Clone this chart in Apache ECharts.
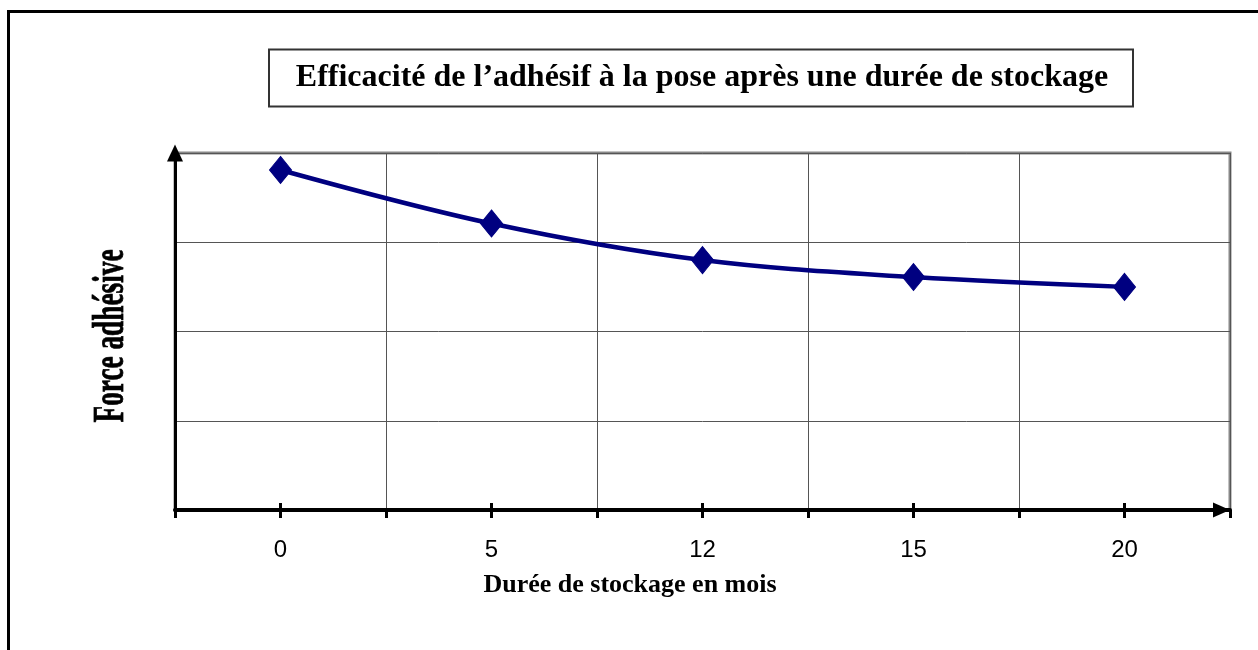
<!DOCTYPE html>
<html><head><meta charset="utf-8">
<script src="https://cdn.jsdelivr.net/npm/echarts@6/dist/echarts.min.js"></script>
<style>html,body{margin:0;padding:0;background:#fff}#c{width:1258px;height:650px}</style>
</head><body><div id="c"></div>
<script>
const categories = ['0', '5', '12', '15', '20'];
const forceValues = [3.81, 3.21, 2.80, 2.61, 2.50];
const yTicks = { min: 0, max: 4, interval: 1 };
const titleText = 'Efficacité de l’adhésif à la pose après une durée de stockage';
const xName = 'Durée de stockage en mois';
const yName = 'Force adhésive';

const chart = echarts.init(document.getElementById('c'), null, { renderer: 'canvas' });
const serif = '"Liberation Serif", "Times New Roman", serif';
const sans = '"Liberation Sans", Arial, sans-serif';

const tickAxis = (inside, len) => ({
  type: 'category', data: categories, position: 'bottom', gridIndex: 0,
  boundaryGap: true,
  axisLine: { show: false },
  axisTick: { show: true, alignWithLabel: true, inside: inside, length: len, lineStyle: { color: '#000', width: 3 } },
  axisLabel: { show: false }, splitLine: { show: false }
});

chart.setOption({
  animation: false,
  backgroundColor: '#fff',
  grid: { left: 175, right: 28, top: 153, bottom: 140, show: true, borderColor: '#888', borderWidth: 3, backgroundColor: 'transparent' },
  xAxis: [{
    type: 'category', data: categories, position: 'bottom', boundaryGap: true,
    axisLine: { show: true, onZero: false, symbol: ['none', 'triangle'], symbolSize: [15, 17], symbolOffset: [0, -8.5], lineStyle: { color: '#000', width: 4 } },
    axisTick: { show: true, length: 8, lineStyle: { color: '#000', width: 3 } },
    axisLabel: { show: true, margin: 28, fontFamily: sans, fontSize: 24, color: '#000' },
    splitLine: { show: true, interval: 0, lineStyle: { color: '#555', width: 1 } }
  }, tickAxis(true, 7), tickAxis(false, 8)],
  yAxis: {
    type: 'value', min: yTicks.min, max: yTicks.max, interval: yTicks.interval,
    axisLine: { show: true, symbol: ['none', 'triangle'], symbolSize: [16, 17], lineStyle: { color: '#000', width: 3 } },
    axisTick: { show: false }, axisLabel: { show: false },
    splitLine: { show: true, lineStyle: { color: '#555', width: 1 } }
  },
  series: [{
    type: 'line', xAxisIndex: 0, data: forceValues, smooth: 0.35,
    symbol: 'diamond', symbolSize: [22, 27], showSymbol: true,
    lineStyle: { color: '#000080', width: 4.5 },
    itemStyle: { color: '#000080', borderColor: '#000080', borderWidth: 1 }, z: 5
  }],
  graphic: [
    { type: 'rect', shape: { x: 8.5, y: 11.5, width: 1400, height: 800 }, style: { fill: 'none', stroke: '#000', lineWidth: 3 }, silent: true },
    { type: 'rect', shape: { x: 269, y: 49.5, width: 864, height: 57 }, style: { fill: '#fff', stroke: '#333', lineWidth: 2 }, silent: true },
    { type: 'text', x: 702, y: 78, style: { text: titleText, font: 'bold 32px ' + serif, fill: '#000', textAlign: 'center', textVerticalAlign: 'middle' } },
    { type: 'text', x: 630, y: 585, style: { text: xName, font: 'bold 26px ' + serif, fill: '#000', textAlign: 'center', textVerticalAlign: 'middle' } },
    { type: 'text', x: 112, y: 336, rotation: Math.PI / 2, scaleX: 0.62, scaleY: 1, style: { text: yName, font: 'bold 44px ' + serif, fill: '#000', stroke: '#000', lineWidth: 0.8, textAlign: 'center', textVerticalAlign: 'middle' } }
  ]
});
</script></body></html>
